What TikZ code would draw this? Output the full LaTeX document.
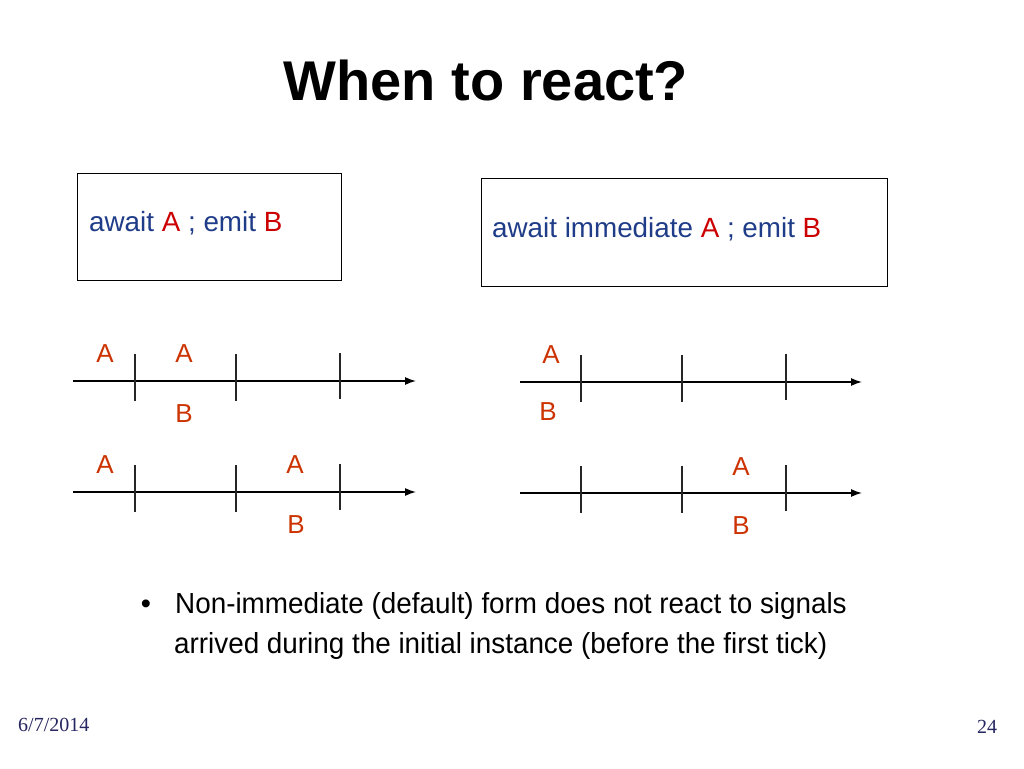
\documentclass[tikz,border=0pt]{standalone}
\usepackage{fontspec}
\setmainfont{Liberation Sans}
\newfontfamily\bodyfont[FakeStretch=0.96]{Liberation Sans}
\newfontfamily\footfont{Liberation Serif}
\usetikzlibrary{arrows,arrows.meta,shapes,positioning}

\definecolor{codeblue}{RGB}{31,60,136}
\definecolor{sigred}{RGB}{204,0,0}
\definecolor{tickred}{RGB}{204,51,0}
\definecolor{footblue}{RGB}{38,38,96}

\begin{document}
\begin{tikzpicture}[x=1pt,y=-1pt]
      \tikzstyle{prog}=[rectangle,draw=black,line width=1pt,inner sep=0pt]
      \tikzstyle{code}=[inner sep=0pt,anchor=base west,text=codeblue,font=\fontsize{27.8}{30}\selectfont]
      \tikzstyle{sig}=[inner sep=0pt,anchor=base,text=tickred,font=\fontsize{26}{28}\selectfont]
      \tikzstyle{axis}=[line width=1.4pt,-{Latex[length=11pt,width=8pt]}]
      \tikzstyle{tick}=[line width=1.4pt,draw=black!85]
      \tikzstyle{foot}=[inner sep=0pt,anchor=base west,text=footblue,font=\footfont\fontsize{20}{22}\selectfont]

      \useasboundingbox[fill=white] (0,0) rectangle (1024,768);

      \node[inner sep=0pt,anchor=base,font=\bfseries\fontsize{56}{60}\selectfont](title) at (486,100){When to react?};

      % the two programs
      \node[prog,minimum width=264pt,minimum height=107pt,anchor=north west](p1) at (77,173){};
      \node[code,xshift=12pt,yshift=-58pt](c1) at (p1.north west){await \textcolor{sigred}{A} ; emit \textcolor{sigred}{B}};

      \node[prog,minimum width=406pt,minimum height=108pt,anchor=north west](p2) at (481,178){};
      \node[code,xshift=11pt,yshift=-59pt](c2) at (p2.north west){await immediate \textcolor{sigred}{A} ; emit \textcolor{sigred}{B}};

      % await A
      \begin{scope}[shift={(73,381)}]
        \coordinate (s) at (0,0);
        \coordinate (e) at (343,0);
        \path[axis] (s) edge (e);
        \draw[tick] (62,-27) -- (62,20);
        \draw[tick] (163,-27) -- (163,20);
        \draw[tick] (267,-28) -- (267,18);

        \node[sig](a1) at (32,-19){A};
        \node[sig](a2) at (111,-19){A};
        \node[sig](b1) at (111,41){B};
      \end{scope}

      \begin{scope}[shift={(73,492)}]
        \coordinate (s) at (0,0);
        \coordinate (e) at (343,0);
        \path[axis] (s) edge (e);
        \draw[tick] (62,-27) -- (62,20);
        \draw[tick] (163,-27) -- (163,20);
        \draw[tick] (267,-28) -- (267,18);

        \node[sig](a1) at (32,-19){A};
        \node[sig](a2) at (222,-19){A};
        \node[sig](b1) at (223,41){B};
      \end{scope}

      % await immediate A
      \begin{scope}[shift={(520,382)}]
        \coordinate (s) at (0,0);
        \coordinate (e) at (342,0);
        \path[axis] (s) edge (e);
        \draw[tick] (61,-27) -- (61,20);
        \draw[tick] (162,-27) -- (162,20);
        \draw[tick] (266,-28) -- (266,18);

        \node[sig](a1) at (31,-19){A};
        \node[sig](b1) at (28,38){B};
      \end{scope}

      \begin{scope}[shift={(520,493)}]
        \coordinate (s) at (0,0);
        \coordinate (e) at (342,0);
        \path[axis] (s) edge (e);
        \draw[tick] (61,-27) -- (61,20);
        \draw[tick] (162,-27) -- (162,20);
        \draw[tick] (266,-28) -- (266,18);

        \node[sig](a1) at (221,-18){A};
        \node[sig](b1) at (221,41){B};
      \end{scope}

      % remark
      \node[inner sep=0pt,anchor=base,font=\fontsize{29}{30}\selectfont](dot) at (146,613){\textbullet};
      \node[inner sep=0pt,anchor=base west,font=\bodyfont\fontsize{29}{30}\selectfont](l1) at (175,613){Non-immediate (default) form does not react to signals};
      \node[inner sep=0pt,anchor=base west,font=\bodyfont\fontsize{29}{30}\selectfont](l2) at (174,653){arrived during the initial instance (before the first tick)};

      \node[foot](date) at (18,731){6/7/2014};
      \node[foot](page) at (977,733){24};
\end{tikzpicture}
\end{document}
